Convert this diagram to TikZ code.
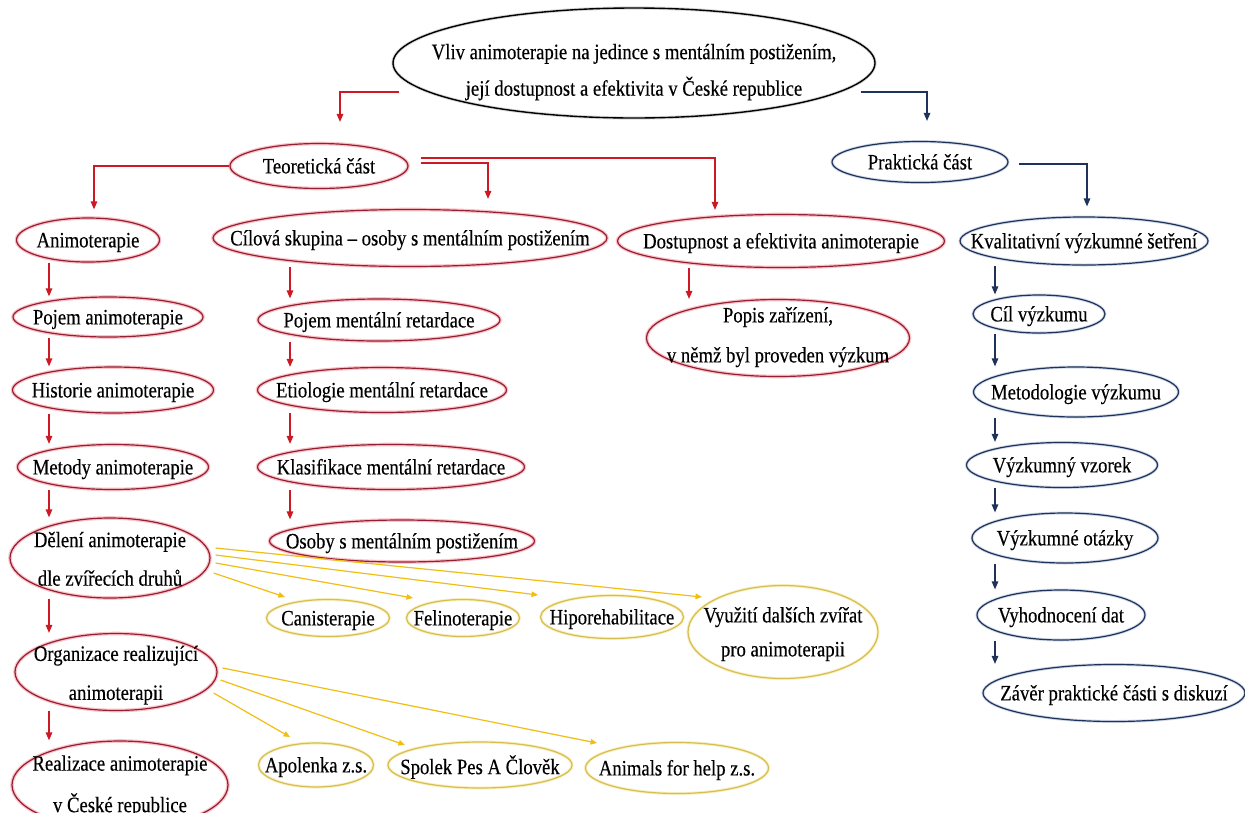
\documentclass[tikz,border=0pt]{standalone}
\usepackage{fontspec}
\setmainfont{Liberation Serif}[FakeStretch=0.85,FakeBold=0.3]
\usetikzlibrary{shapes.geometric,arrows.meta,calc}
\definecolor{rline}{RGB}{205,25,35}
\definecolor{rnode}{RGB}{150,30,50}
\definecolor{rglow}{RGB}{250,195,200}
\definecolor{yline}{RGB}{240,190,20}
\definecolor{ynode}{RGB}{215,190,80}
\definecolor{yglow}{RGB}{250,240,195}
\definecolor{bline}{RGB}{30,50,90}
\definecolor{bglow}{RGB}{210,218,232}
\newcommand{\tx}[2][3pt]{\makebox[0pt]{\raisebox{-#1}[\height][\depth]{\begin{tabular}{@{}c@{}}#2\end{tabular}}}}
\begin{document}
\begin{tikzpicture}[x=1pt,y=-1pt,
  every node/.style={font=\fontsize{22}{22}\selectfont},
  base/.style={ellipse, inner sep=0pt, inner ysep=-6pt, line width=1.2pt},
  rn/.style={base, draw=rnode, preaction={draw=rglow, line width=3.6pt}},
  yn/.style={base, draw=ynode, preaction={draw=yglow, line width=3pt}},
  bn/.style={base, draw=bline, preaction={draw=bglow, line width=3pt}},
  kn/.style={base, draw=black, line width=1.4pt, preaction={draw=black!15, line width=3.2pt}},
  sz/.style 2 args={minimum width=#1pt, minimum height=#2pt},
  ra/.style={draw=rline, line width=1.3pt, -{Triangle[length=8pt,width=6.5pt]}},
  ba/.style={draw=bline, line width=1.3pt, -{Triangle[length=8pt,width=6.5pt]}},
  ya/.style={draw=yline, line width=1.2pt, -{Triangle[length=6.5pt,width=5.5pt]}}
]
\fill[white] (0,0) rectangle (1245,812);
\useasboundingbox (0,0) rectangle (1245,812);

% columns of the vertical chains
\coordinate (cA) at (49,0);
\coordinate (cC) at (290,0);
\coordinate (cD) at (689,0);
\coordinate (cB) at (995,0);

% top
\node[kn, sz={482}{110}] (top) at (634,63) {\tx[10pt]{Vliv animoterapie na jedince s mentálním postižením,\\[11pt]její dostupnost a efektivita v České republice}};

% red
\node[rn, sz={178}{45}] (teo) at (319,166) {\tx{Teoretická část}};
\node[rn, sz={143}{44}] (anim) at (88,240) {\tx{Animoterapie}};
\node[rn, sz={394}{57}] (cil) at (410,238) {\tx{Cílová skupina – osoby s mentálním postižením}};
\node[rn, sz={327}{53}] (dost) at (781,241) {\tx{Dostupnost a efektivita animoterapie}};
\node[rn, sz={190}{40}] (pojA) at (108,317) {\tx{Pojem animoterapie}};
\node[rn, sz={242}{42}] (pojC) at (379,320) {\tx{Pojem mentální retardace}};
\node[rn, sz={263}{77}] (popis) at (778,338) {\tx[0pt]{Popis zařízení,\\[18pt]v němž byl proveden výzkum}};
\node[rn, sz={201}{46}] (hist) at (113,390) {\tx{Historie animoterapie}};
\node[rn, sz={249}{45}] (etio) at (382,390) {\tx{Etiologie mentální retardace}};
\node[rn, sz={191}{45}] (met) at (113,467) {\tx{Metody animoterapie}};
\node[rn, sz={267}{45}] (klas) at (391,467) {\tx{Klasifikace mentální retardace}};
\node[rn, sz={200}{80}] (del) at (110,558) {\tx[4pt]{Dělení animoterapie\\[16pt]dle zvířecích druhů}};
\node[rn, sz={265}{42}] (osoby) at (402,541) {\tx{Osoby s mentálním postižením}};
\node[rn, sz={202}{77}] (org) at (116,672) {\tx[4pt]{Organizace realizující\\[17pt]animoterapii}};
\node[rn, sz={216}{88}] (real) at (120,785) {\tx[2pt]{Realizace animoterapie\\[16pt]v České republice}};

% yellow
\node[yn, sz={123}{37}] (can) at (328,618) {\tx{Canisterapie}};
\node[yn, sz={113}{37}] (fel) at (463,618) {\tx{Felinoterapie}};
\node[yn, sz={143}{43}] (hipo) at (612,617) {\tx{Hiporehabilitace}};
\node[yn, sz={190}{93}] (vyu) at (783,632) {\tx{Využití dalších zvířat\\[12pt]pro animoterapii}};
\node[yn, sz={115}{44}] (apo) at (316,765) {\tx{Apolenka z.s.}};
\node[yn, sz={184}{46}] (spo) at (480,765) {\tx{Spolek Pes A Člověk}};
\node[yn, sz={183}{51}] (ani) at (677,768) {\tx{Animals for help z.s.}};

% blue
\node[bn, sz={176}{41}] (prak) at (920,162) {\tx{Praktická část}};
\node[bn, sz={248}{48}] (kval) at (1084,241) {\tx{Kvalitativní výzkumné šetření}};
\node[bn, sz={132}{38}] (cilv) at (1039,314) {\tx{Cíl výzkumu}};
\node[bn, sz={205}{50}] (metv) at (1076,392) {\tx{Metodologie výzkumu}};
\node[bn, sz={191}{45}] (vzor) at (1062,465) {\tx{Výzkumný vzorek}};
\node[bn, sz={186}{50}] (otaz) at (1065,538) {\tx{Výzkumné otázky}};
\node[bn, sz={168}{50}] (vyh) at (1061,615) {\tx{Vyhodnocení dat}};
\node[bn, sz={262}{57}] (zav) at (1114,693) {\tx{Závěr praktické části s diskuzí}};

% top-level connectors
\draw[ra] ($(top.west)+(7,29)$) -| ($(teo.north)+(21,-21)$);
\draw[ba] ($(top.east)+(-15,29)$) -| ($(prak.north)+(7,-20)$);
\draw[ra] (teo.west) -| ($(anim.north)+(6,-8)$);
\draw[ra] ($(teo.east)+(12,-3)$) -| ($(cil.north)+(78,-10)$);
\draw[ra] ($(teo.east)+(12,-8)$) -| ($(dost.north)+(-66,-4)$);
\draw[ba] ($(prak.east)+(10,2)$) -| ($(kval.north)+(3,-10)$);

% vertical chains
\foreach \a/\b in {anim/pojA, pojA/hist, hist/met, met/del, del/org, org/real}
  \draw[ra] (\a.south -| cA) -- (\b.north -| cA);
\foreach \a/\b in {cil/pojC, pojC/etio, etio/klas, klas/osoby}
  \draw[ra] (\a.south -| cC) -- (\b.north -| cC);
\draw[ra] (dost.south -| cD) -- (popis.north -| cD);
\foreach \a/\b in {kval/cilv, cilv/metv, metv/vzor, vzor/otaz, otaz/vyh, vyh/zav}
  \draw[ba] (\a.south -| cB) -- (\b.north -| cB);

% yellow connectors
\draw[ya] ($(del.east)+(5,-10)$) -- ($(vyu.center)+(-81,-35)$);
\draw[ya] ($(del.east)+(5,-3)$) -- ($(hipo.center)+(-74,-22)$);
\draw[ya] ($(del.east)+(5,5)$) -- ($(fel.center)+(-50,-20)$);
\draw[ya] ($(del.east)+(3,15)$) -- ($(can.center)+(-43,-21)$);
\draw[ya] ($(org.east)+(5,-4)$) -- ($(ani.center)+(-80,-25)$);
\draw[ya] ($(org.east)+(3,8)$) -- ($(spo.center)+(-75,-20)$);
\draw[ya] ($(org.east)+(-4,21)$) -- ($(apo.center)+(-26,-28)$);
\end{tikzpicture}
\end{document}
